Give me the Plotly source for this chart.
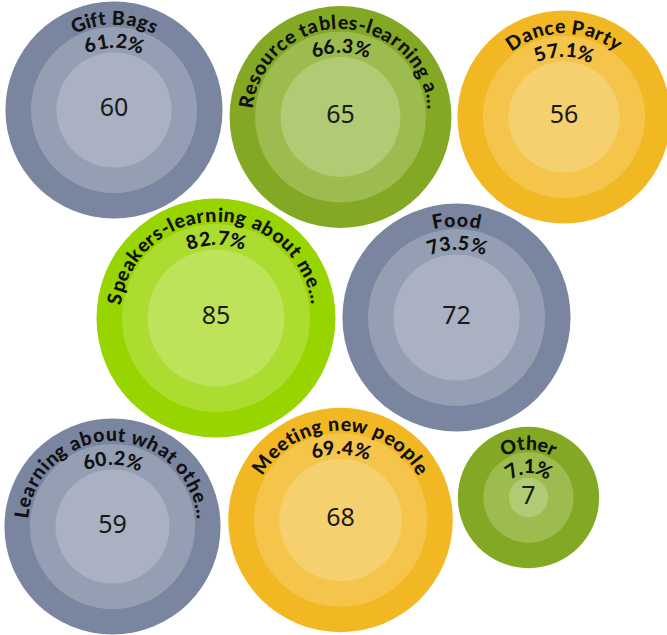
import math
import plotly.graph_objects as go

# ---------------- data ----------------
labels = ["Gift Bags", "Resource tables-learning a...", "Dance Party",
          "Speakers-learning about me...", "Food", "Learning about what othe...",
          "Meeting new people", "Other"]
values = [60, 65, 56, 85, 72, 59, 68, 7]
percents = [61.2, 66.3, 57.1, 82.7, 73.5, 60.2, 69.4, 7.1]

# ---------------- layout (packed bubble positions, pixel space) ----------------
center_x = [114, 340.5, 564, 216, 456.5, 112.5, 340.5, 528.5]
center_y = [110, 117, 117, 318, 317.5, 526.5, 520, 497.5]
color_group = ["slate", "olive", "gold", "lime", "slate", "slate", "gold", "olive"]
palette = {
    "slate": ("#7A86A0", "#959FB4", "#A9B1C3"),
    "olive": ("#83A823", "#9DBC50", "#B1CB75"),
    "gold": ("#F2B824", "#F4C44B", "#F5D06F"),
    "lime": ("#98D400", "#ABDC2F", "#BDE35B"),
}
W, H = 667, 635
K = 7.43          # inner radius scale (area ~ value)
RING = 25.5       # ring thickness in px

inner_r = [K * math.sqrt(v) for v in values]
mid_r = [r + RING for r in inner_r]
outer_r = [r + 2 * RING for r in inner_r]

fig = go.Figure()
for k, radii in enumerate([outer_r, mid_r, inner_r]):
    fig.add_trace(go.Scatter(
        x=center_x, y=center_y,
        mode="markers+text" if k == 2 else "markers",
        text=[str(v) for v in values] if k == 2 else None,
        textposition="middle center",
        textfont=dict(family="Noto Sans", size=25, color="#1a1a1a"),
        marker=dict(size=[2 * r for r in radii],
                    color=[palette[g][k] for g in color_group],
                    line=dict(width=0), opacity=1),
        cliponaxis=False,
        hoverinfo="skip", showlegend=False,
    ))

# approximate advance widths (em) for a bold humanist sans
WID = {' ': .23, 'a': .52, 'b': .57, 'c': .47, 'd': .57, 'e': .53, 'f': .33, 'g': .51,
       'h': .57, 'i': .26, 'j': .26, 'k': .53, 'l': .26, 'm': .86, 'n': .57, 'o': .57,
       'p': .56, 'q': .57, 'r': .39, 's': .44, 't': .37, 'u': .57, 'v': .52, 'w': .78,
       'x': .52, 'y': .52, 'z': .46, '.': .25, '%': .78, '-': .36,
       'G': .71, 'B': .65, 'R': .64, 'S': .53, 'D': .74, 'P': .61, 'F': .55, 'L': .52,
       'M': .90, 'O': .78}
for d in "0123456789":
    WID[d] = .58

FS = 19.5
TRACK = 1.16


def arc_text(text, cx, cy, R, fs=FS, track=TRACK):
    ws = [WID.get(ch, .55) * fs * track for ch in text]
    total = sum(ws)
    s = -total / 2
    for ch, w in zip(text, ws):
        mid = s + w / 2
        s += w
        if ch == ' ':
            continue
        th = mid / R
        fig.add_annotation(
            x=cx + R * math.sin(th), y=cy - R * math.cos(th),
            xref="x", yref="y", text=ch, showarrow=False,
            xanchor="center", yanchor="middle",
            textangle=math.degrees(th),
            font=dict(family="Lato", size=fs, color="#111111", weight=900),
        )


for i in range(len(labels)):
    arc_text(labels[i], center_x[i], center_y[i], outer_r[i] - 15.5)
    arc_text(f"{percents[i]:.1f}%", center_x[i], center_y[i], mid_r[i] - 13.5)

fig.update_layout(
    width=W, height=H, margin=dict(l=0, r=0, t=0, b=0),
    paper_bgcolor="white", plot_bgcolor="white",
    xaxis=dict(range=[0, W], visible=False, fixedrange=True),
    yaxis=dict(range=[H, 0], visible=False, fixedrange=True),
)
fig.write_html("out.html", config={"displayModeBar": False},
               post_script="document.body.style.margin='0';")
